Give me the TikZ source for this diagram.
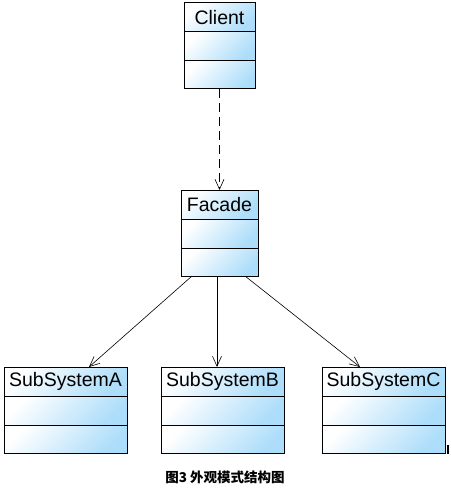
\documentclass[tikz,border=0pt]{standalone}
\usepackage{fontspec}
\setmainfont{Liberation Sans}
\newfontfamily\cjk{Noto Sans CJK SC}
\usetikzlibrary{arrows.meta,calc}
\definecolor{umlblue}{RGB}{172,221,250}
\tikzset{
  comp/.style={draw=black, line width=1pt, shading=axis, top color=white, bottom color=umlblue, shading angle=45, inner sep=0pt, outer sep=0pt},
  lbl/.style={font=\fontsize{19.5}{21}\selectfont},
  assoc/.style={line width=0.6pt, -{Straight Barb[length=10pt,width=9pt,line width=0.6pt]}},
  dep/.style={assoc, dash pattern=on 9pt off 5pt},
}
\newcommand\umlbox[5]{%
  \node[comp, lbl, minimum width=#4, minimum height=29, anchor=north west] (#1-t) at (#2,#3) {#5};
  \node[comp, minimum width=#4, minimum height=29, anchor=north] (#1-a) at (#1-t.south) {};
  \node[comp, minimum width=#4, minimum height=28, anchor=north] (#1-o) at (#1-a.south) {};
}
\begin{document}
\begin{tikzpicture}[x=1pt,y=-1pt]
\fill[white] (0,0) rectangle (450,492);
\useasboundingbox (0,0) rectangle (450,492);
\umlbox{client}{184}{3}{71}{Client}
\umlbox{facade}{181}{190}{77}{Facade}
\umlbox{suba}{4}{367}{123}{SubSystemA}
\umlbox{subb}{161}{367}{123}{SubSystemB}
\umlbox{subc}{322}{367}{123}{SubSystemC}
\draw[dep] (client-o.south) -- (facade-t.north);
\draw[assoc] ($(facade-o.south west)+(11,0)$) -- ($(suba-t.north west)+(85,0)$);
\draw[assoc] ($(facade-o.south west)+(36,0)$) -- ($(subb-t.north west)+(56,0)$);
\draw[assoc] ($(facade-o.south west)+(64,0)$) -- ($(subc-t.north west)+(38,0)$);
\draw[line width=1.2pt] ($(subc-o.south east)+(3,-8)$) -- ($(subc-o.south east)+(3,1)$);
\node[font=\cjk\bfseries\fontsize{13.5}{15}\selectfont, inner sep=0pt] (cap) at (225,477) {图3 外观模式结构图};
\end{tikzpicture}
\end{document}
